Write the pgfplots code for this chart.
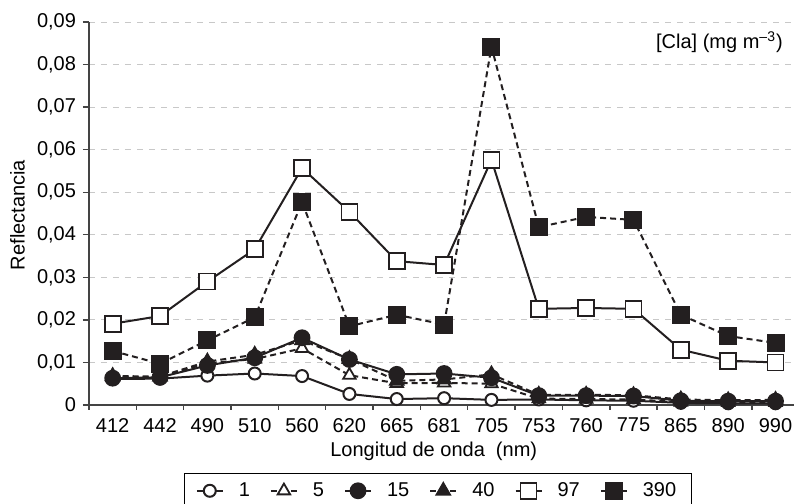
\documentclass[border=0pt]{standalone}
\usepackage{fontspec}
\setmainfont{Liberation Sans}
\usepackage{pgfplots}
\pgfplotsset{compat=1.18}
\usepackage{pgfplotstable}
\definecolor{ink}{HTML}{231F20}
\definecolor{gridgrey}{HTML}{C8C8C8}
\definecolor{axisgrey}{HTML}{444444}

\pgfplotstableread{
x   s1      s5      s15     s40     s97     s390
0   0.0061  0.0065  0.0063  0.0068  0.0191  0.0127
1   0.0062  0.0066  0.0065  0.0067  0.0209  0.0097
2   0.0069  0.0098  0.0093  0.0102  0.0290  0.0152
3   0.0074  0.0108  0.0111  0.0118  0.0366  0.0206
4   0.0068  0.0133  0.0158  0.0152  0.0557  0.0477
5   0.0026  0.0070  0.0107  0.0108  0.0454  0.0185
6   0.0014  0.0051  0.0072  0.0057  0.0338  0.0212
7   0.0016  0.0052  0.0074  0.0060  0.0329  0.0189
8   0.0012  0.0050  0.0064  0.0072  0.0576  0.0842
9   0.0013  0.0015  0.0022  0.0024  0.0226  0.0418
10  0.0011  0.0014  0.0022  0.0024  0.0228  0.0442
11  0.0010  0.0013  0.0021  0.0023  0.0226  0.0435
12  0.0005  0.0007  0.0010  0.0013  0.0130  0.0212
13  0.0004  0.0006  0.0009  0.0011  0.0104  0.0162
14  0.0004  0.0006  0.0009  0.0012  0.0100  0.0146
}\datatable

\begin{document}
\begin{tikzpicture}
\begin{axis}[
  at={(44.5pt,49.5pt)}, anchor=south west,
  scale only axis, width=352.5pt, height=191.5pt,
  xmin=-0.5, xmax=14.39, ymin=0, ymax=0.09,
  axis x line*=bottom, axis y line*=left,
  axis line style={axisgrey, line width=0.7pt},
  font=\fontsize{10}{12}\selectfont,
  xtick={0,...,14},
  xticklabels={412,442,490,510,560,620,665,681,705,753,760,775,865,890,990},
  every major x tick/.append style={draw=none},
  minor xtick={-0.5,0.5,...,13.5},
  minor tick length=2.5pt,
  major tick length=3pt,
  tick align=outside,
  tick style={axisgrey, line width=0.7pt},
  scaled y ticks=false,
  ytick={0,0.01,...,0.09},
  yticklabels={0,{0,01},{0,02},{0,03},{0,04},{0,05},{0,06},{0,07},{0,08},{0,09}},
  ymajorgrids,
  grid style={gridgrey, dash pattern=on 3pt off 3pt, line width=0.5pt},
  xlabel={Longitud de onda\ \ (nm)},
  xlabel style={at={(axis description cs:0.489,-0.122)}, anchor=center},
  ylabel={Reflectancia},
  ylabel style={at={(axis description cs:-0.1014,0.496)}, anchor=center},
  legend columns=6,
  legend style={at={(axis description cs:0.495,-0.224)}, anchor=center,
    draw=black, line width=0.6pt, inner xsep=5.5pt, inner ysep=2.5pt,
    font=\fontsize{10}{12}\selectfont,
    /tikz/every odd column/.append style={column sep=5.5pt},
    /tikz/every even column/.append style={column sep=8pt}},
  legend image code/.code={
    \draw[mark repeat=2,mark phase=2,#1] plot coordinates {(0pt,0pt)(6.5pt,0pt)(13pt,0pt)};},
  clip=false,
]
\addplot[ink, line width=1pt, mark=*, mark size=3pt, mark options={solid, fill=white, draw=ink, line width=1pt}]
  table[x=x,y=s1]{\datatable};
\addlegendentry{1}
\addplot[ink, line width=1pt, dash pattern=on 3pt off 2pt, mark=triangle*, mark size=3.6pt, mark options={solid, fill=white, line width=0.9pt}]
  table[x=x,y=s5]{\datatable};
\addlegendentry{5}
\addplot[ink, line width=1pt, mark=*, mark size=3.7pt, mark options={solid, fill=ink}]
  table[x=x,y=s15]{\datatable};
\addlegendentry{15}
\addplot[ink, line width=1pt, dash pattern=on 3pt off 2pt, mark=triangle*, mark size=3.8pt, mark options={solid, fill=ink}]
  table[x=x,y=s40]{\datatable};
\addlegendentry{40}
\addplot[ink, line width=1pt, mark=square*, mark size=4pt, mark options={solid, fill=white, line width=0.9pt}]
  table[x=x,y=s97]{\datatable};
\addlegendentry{97}
\addplot[ink, line width=1pt, dash pattern=on 3pt off 2pt, mark=square*, mark size=4pt, mark options={solid, fill=ink}]
  table[x=x,y=s390]{\datatable};
\addlegendentry{390}
\node[anchor=east, font=\fontsize{10}{12}\selectfont] at (axis description cs:0.994,0.948) {[Cla] (mg m\textsuperscript{–3})};
\end{axis}
\pgfresetboundingbox
\path[use as bounding box] (0,0) rectangle (397pt,252pt);
\end{tikzpicture}
\end{document}
